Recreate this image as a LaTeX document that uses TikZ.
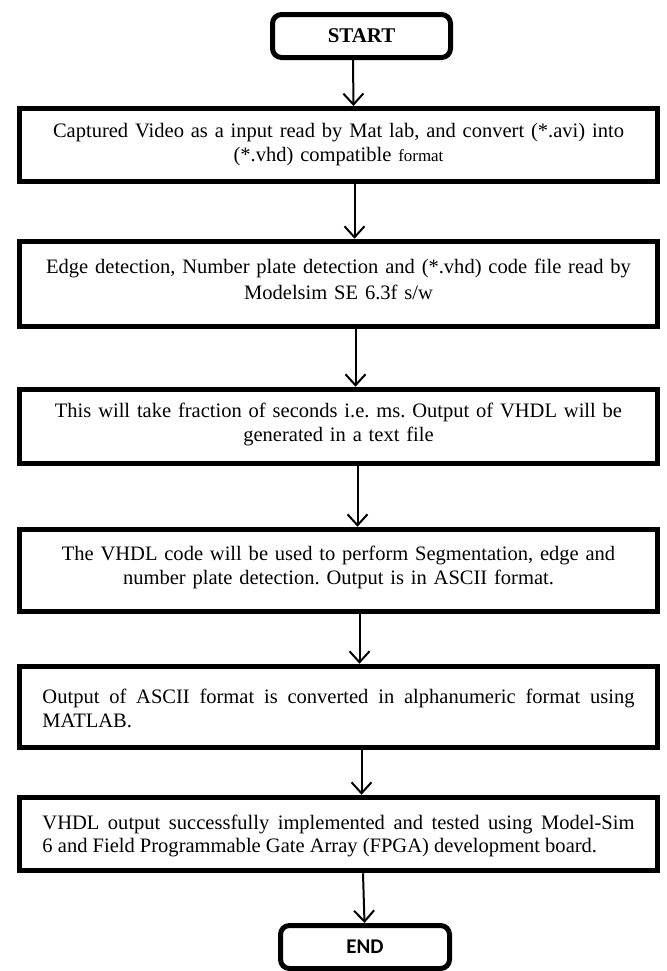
\documentclass[tikz,border=0pt]{standalone}
\usepackage{fontspec}
\setmainfont{Liberation Serif}
\newfontfamily\calibri{Carlito}
\usepackage{tikz}
\usetikzlibrary{arrows.meta,positioning,calc}
\frenchspacing

\begin{document}
\begin{tikzpicture}[
    x=1bp, y=-1bp,
    terminal/.style={rectangle, draw=black, line width=5bp, rounded corners=9bp, minimum width=178bp, minimum height=43bp, inner sep=0pt, font=\fontsize{21}{24}\selectfont\bfseries},
    stepbox/.style={rectangle, draw=black, line width=5bp, minimum width=638bp, text width=612bp, inner sep=0pt, align=center, font=\fontsize{20.6}{24}\selectfont},
    justbox/.style={stepbox, text width=592bp, align=justify},
    arrow/.style={line width=2bp, -{Straight Barb[length=11bp, width=20bp, line width=2bp]}}
]
    \useasboundingbox (0,0) rectangle (667,971);

    % Start and end
    \node[terminal] (start) at (361.5,36) {START};
    \node[terminal, minimum width=169bp, font=\fontsize{21}{24}\selectfont\calibri\bfseries] (stop) at (365,947) {END};

    % Processing steps
    \node[stepbox, minimum height=73bp] (capture) at (338.5,145) {Captured Video as a input read by Mat lab, and convert (*.avi) into\\(*.vhd) compatible {\fontsize{17}{24}\selectfont format}};
    \node[stepbox, minimum height=85.5bp, text depth=36bp, font=\fontsize{20.6}{26}\selectfont] (modelsim) at (338.5,284) {Edge detection, Number plate detection and (*.vhd) code file read by\\Modelsim SE 6.3f s/w};
    \node[stepbox, minimum height=74.5bp, text depth=32bp] (vhdlout) at (338.5,426.5) {This will take fraction of seconds i.e. ms. Output of VHDL will be\\generated in a text file};
    \node[stepbox, minimum height=82.5bp, text depth=34bp] (segment) at (338.5,570.5) {The VHDL code will be used to perform Segmentation, edge and\\number plate detection. Output is in ASCII format.};
    \node[justbox, minimum height=81.5bp, text depth=22bp] (ascii) at (338.5,707) {Output of ASCII format is converted in alphanumeric format using\linebreak MATLAB.};
    \node[justbox, minimum height=73.5bp, text depth=24bp, font=\fontsize{20.6}{23}\selectfont] (fpga) at (338.5,834) {VHDL output successfully implemented and tested using Model-Sim\linebreak 6 and Field Programmable Gate Array (FPGA) development board.};

    % Flow arrows
    \draw[arrow] ([xshift=-8.5bp]start.south) -- ([xshift=15bp]capture.north);
    \draw[arrow] ([xshift=16bp]capture.south) -- ([xshift=16bp]modelsim.north);
    \draw[arrow] ([xshift=17bp]modelsim.south) -- ([xshift=17bp]vhdlout.north);
    \draw[arrow] ([xshift=19bp]vhdlout.south) -- ([xshift=19bp]segment.north);
    \draw[arrow] ([xshift=21bp]segment.south) -- ([xshift=21bp]ascii.north);
    \draw[arrow] ([xshift=23bp]ascii.south) -- ([xshift=23bp]fpga.north);
    \draw[arrow] ([xshift=24.5bp]fpga.south) -- ([xshift=-0.5bp]stop.north);
\end{tikzpicture}
\end{document}
